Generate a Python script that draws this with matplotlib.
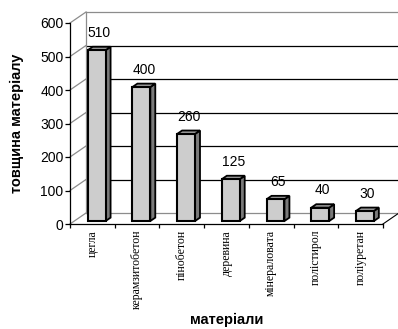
import matplotlib
matplotlib.use("Agg")
import matplotlib.pyplot as plt
from matplotlib.patches import Polygon
import numpy as np

# Material names and wall thickness values
materials = ["цегла", "керамзитобетон", "пінобетон", "деревина",
             "мінераловата", "полістирол", "поліуретан"]
thickness = [510, 400, 260, 125, 65, 40, 30]
y_ticks = [0, 100, 200, 300, 400, 500, 600]
y_title = "товщина матеріалу"
x_title = "матеріали"

W, H, DPI = 398, 329, 100
fig = plt.figure(figsize=(W / DPI, H / DPI), dpi=DPI)
ax = fig.add_axes([0, 0, 1, 1])

# pixel geometry of the front plane
px_x0, px_cat = 70.0, 44.71         # x pixel of category 0 edge, px per category
px_y0, px_val = 224.0, 201.0 / 600  # y pixel (from top) of value 0, px per unit
ax.set_xlim((0 - px_x0) / px_cat, (W - px_x0) / px_cat)
ax.set_ylim((px_y0 - H) / px_val, px_y0 / px_val)

n = len(materials)
ymax = y_ticks[-1]
DX = 16.0 / px_cat      # depth offset of the back wall (category units)
DY = 11.0 / px_val      # depth offset of the back wall (value units)

wall_grey = "#8c8c8c"
# back wall: gridlines and borders
for v in y_ticks:
    col = "black" if 0 < v < ymax else wall_grey
    ax.plot([DX, n + DX], [v + DY, v + DY], color=col, lw=0.9, zorder=1)
    # side wall diagonals
    ax.plot([0, DX], [v, v + DY], color=wall_grey, lw=0.9, zorder=1)
ax.plot([DX, DX], [DY, ymax + DY], color=wall_grey, lw=0.9, zorder=1)
ax.plot([n + DX, n + DX], [DY, ymax + DY], color=wall_grey, lw=0.9, zorder=1)
# floor right edge
ax.plot([n, n + DX], [0, DY], color="black", lw=0.8, zorder=1)

# 3D bars
bw = 0.40
d0, d1 = 0.27, 0.58
ddx, ddy = (d1 - d0) * DX, (d1 - d0) * DY
for i, v in enumerate(thickness):
    x0 = i + 0.5 - bw / 2 + d0 * DX
    y0 = d0 * DY
    front = Polygon([(x0, y0), (x0 + bw, y0), (x0 + bw, y0 + v), (x0, y0 + v)],
                    closed=True, facecolor="#cdcdcd", edgecolor="black",
                    lw=1.5, joinstyle="miter", zorder=3)
    side = Polygon([(x0 + bw, y0), (x0 + bw + ddx, y0 + ddy),
                    (x0 + bw + ddx, y0 + v + ddy), (x0 + bw, y0 + v)],
                   closed=True, facecolor="#7a7a7a", edgecolor="black",
                   lw=1.3, joinstyle="miter", zorder=2)
    top = Polygon([(x0, y0 + v), (x0 + bw, y0 + v),
                   (x0 + bw + ddx, y0 + v + ddy), (x0 + ddx, y0 + v + ddy)],
                  closed=True, facecolor="#9a9a9a", edgecolor="black",
                  lw=1.3, joinstyle="miter", zorder=2)
    for p in (side, top, front):
        ax.add_patch(p)
    ax.annotate(str(v), (x0 + bw / 2 + ddx / 2, y0 + v), xytext=(0, 12.5),
                textcoords="offset points", ha="center", va="center",
                fontsize=10, family="Liberation Sans", zorder=4)

# front axes
for s in ("top", "right"):
    ax.spines[s].set_visible(False)
ax.spines["left"].set_position(("data", 0))
ax.spines["left"].set_bounds(0, ymax)
ax.spines["bottom"].set_position(("data", 0))
ax.spines["bottom"].set_bounds(0, n)
for s in ("left", "bottom"):
    ax.spines[s].set_linewidth(0.9)
    ax.spines[s].set_zorder(5)

ax.set_yticks(y_ticks)
ax.set_yticklabels([str(t) for t in y_ticks], fontsize=10, family="Liberation Sans")
ax.tick_params(axis="y", direction="out", length=3.6, width=0.9, pad=1)

ax.set_xticks(np.arange(n + 1))
ax.set_xticklabels([])
ax.set_xticks(np.arange(n) + 0.5, minor=True)
ax.set_xticklabels(materials, minor=True, rotation=90, fontsize=8.5,
                   family="Liberation Serif", va="top", ha="center")
ax.tick_params(axis="x", which="major", direction="out", length=3, width=0.9)
ax.tick_params(axis="x", which="minor", length=0, pad=4.3)

ax.text((17 - px_x0) / px_cat, ymax / 2, y_title, rotation=90, ha="center",
        va="center", fontsize=10.5, fontweight="bold", family="Liberation Sans")
ax.text(n / 2, (px_y0 - 320) / px_val, x_title, ha="center", va="center",
        fontsize=10.5, fontweight="bold", family="Liberation Sans")

fig.savefig("out.png", dpi=DPI)
